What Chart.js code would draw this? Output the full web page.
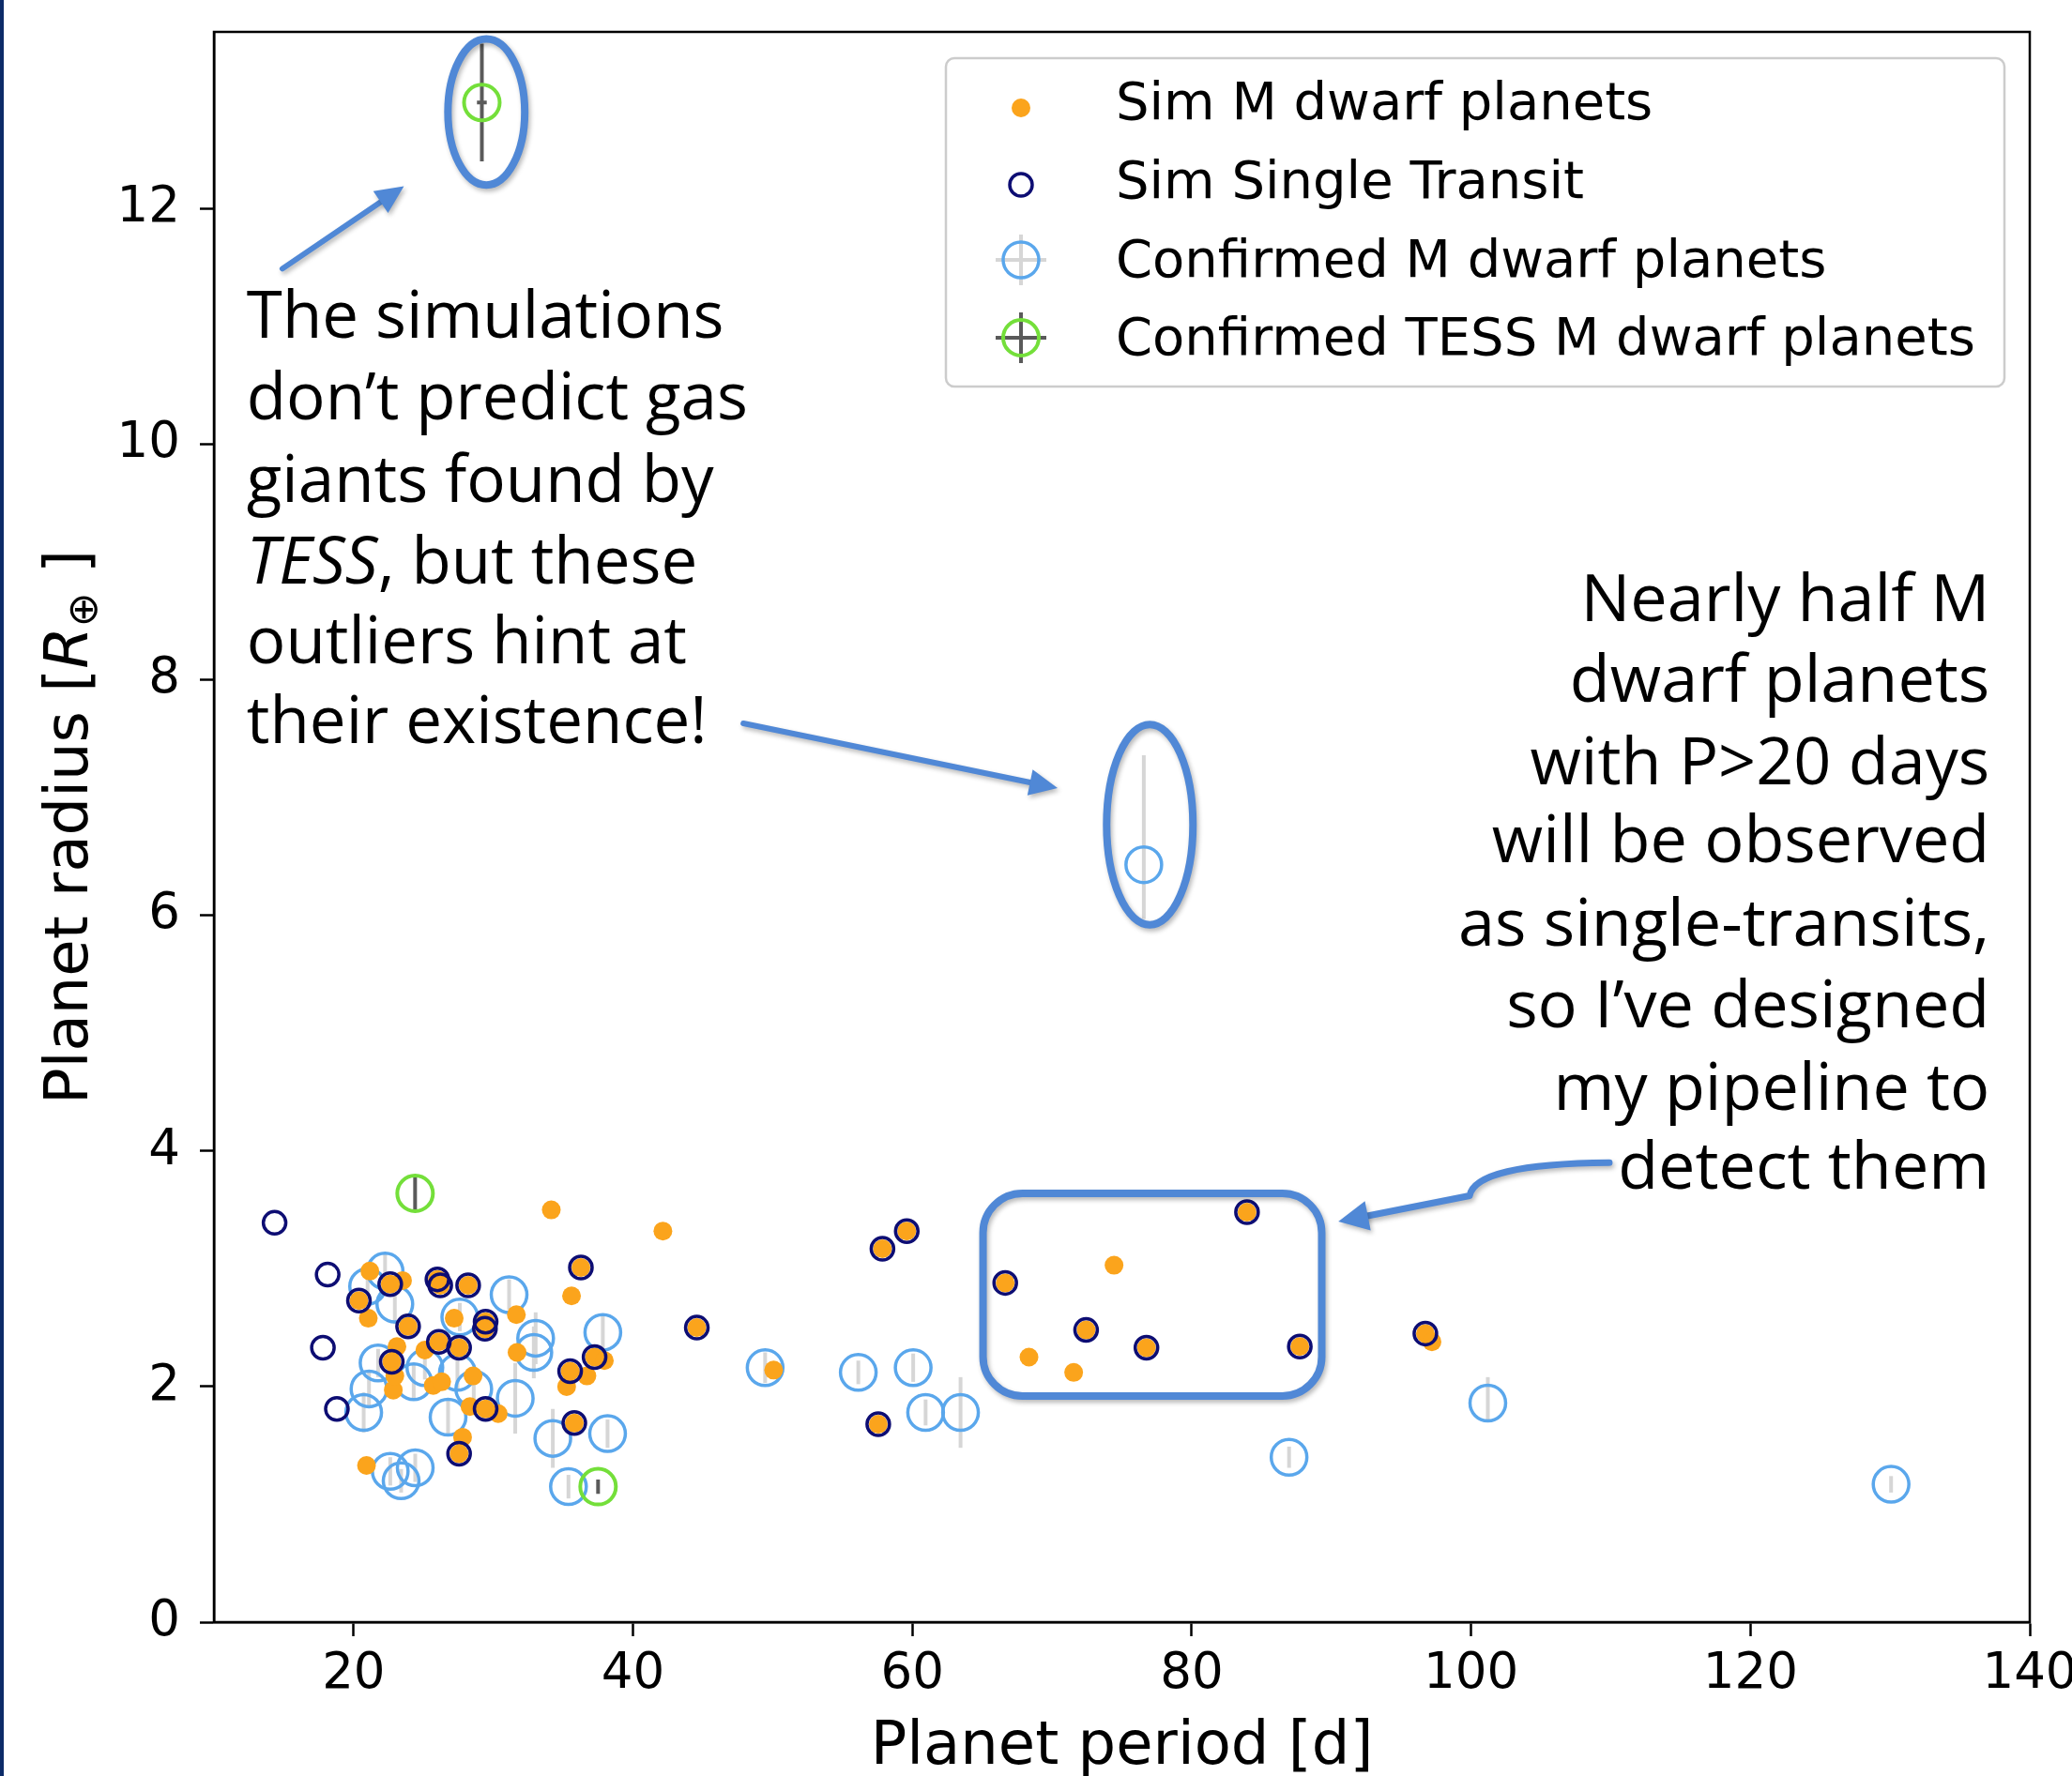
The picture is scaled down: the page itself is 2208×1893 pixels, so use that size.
<!DOCTYPE html>
<html>
<head>
<meta charset="utf-8">
<title>Sim vs confirmed M dwarf planets</title>
<script src="https://cdn.jsdelivr.net/npm/chart.js@4.4.1/dist/chart.umd.min.js"></script>
<style>
  html, body { margin: 0; padding: 0; background: #fff; }
  #wrap { position: relative; width: 2208px; height: 1893px; overflow: hidden; }
  #wrap::before { content: ''; position: absolute; left: 0; top: 0; width: 4px; height: 100%; background: #0c2b68; }
  canvas { display: block; }
</style>
</head>
<body>
<div id="wrap"><canvas id="chart" width="2208" height="1893"></canvas></div>
<script>
// ---- data ----
const xTicks = [20, 40, 60, 80, 100, 120, 140];
const yTicks = [0, 2, 4, 6, 8, 10, 12];

// simulated M dwarf planets (orange dots)
const simPeriod = [22.62, 20.38, 26.0, 26.2, 28.2, 29.45, 29.4, 23.9, 26.1, 27.55, 22.73, 29.45, 27.55, 36.27, 37.25, 35.5, 35.8, 44.57, 57.86, 59.6, 57.56, 66.65, 83.96, 72.44, 76.76, 87.74, 96.73,
                   34.15, 35.6, 21.16, 23.5, 21.05, 27.2, 31.65, 23.1, 25.1, 22.84, 22.95, 25.7, 26.3, 28.55, 28.33, 30.35, 31.7, 37.95, 36.7, 35.25, 27.8, 20.92, 42.14, 50.07, 74.44, 68.35, 71.55, 97.2];
const simRadius = [2.87, 2.73, 2.91, 2.86, 2.86, 2.55, 2.49, 2.51, 2.38, 2.33, 2.21, 1.81, 1.43, 3.01, 2.25, 2.13, 1.69, 2.50, 3.17, 3.32, 1.68, 2.88, 3.48, 2.48, 2.33, 2.34, 2.45,
                   3.50, 2.77, 2.98, 2.90, 2.58, 2.58, 2.61, 2.34, 2.31, 1.97, 2.09, 2.01, 2.04, 2.09, 1.83, 1.77, 2.29, 2.22, 2.09, 2.00, 1.57, 1.33, 3.32, 2.14, 3.03, 2.25, 2.12, 2.38];

// simulated single transits (navy open circles)
const singlePeriod = [22.62, 20.38, 26.0, 26.2, 28.2, 29.45, 29.4, 23.9, 26.1, 27.55, 22.73, 29.45, 27.55, 36.27, 37.25, 35.5, 35.8, 44.57, 57.86, 59.6, 57.56, 66.65, 83.96, 72.44, 76.76, 87.74, 96.73,
                      14.34, 18.14, 17.8, 18.8];
const singleRadius = [2.87, 2.73, 2.91, 2.86, 2.86, 2.55, 2.49, 2.51, 2.38, 2.33, 2.21, 1.81, 1.43, 3.01, 2.25, 2.13, 1.69, 2.50, 3.17, 3.32, 1.68, 2.88, 3.48, 2.48, 2.33, 2.34, 2.45,
                      3.39, 2.95, 2.33, 1.81];

// confirmed M dwarf planets (light blue, grey error bars)
const confPeriod = [22.25, 21.0, 22.95, 31.13, 27.6, 21.75, 21.1, 20.72, 24.3, 25.1, 27.43, 28.6, 26.76, 31.57, 33.03, 32.9, 37.84, 38.18, 34.26, 35.38,
                    22.62, 23.4, 24.41, 49.46, 56.13, 60.06, 60.95, 63.45, 76.57, 86.97, 101.2, 130.07];
const confRadius = [2.98, 2.85, 2.70, 2.78, 2.59, 2.20, 1.98, 1.78, 2.04, 2.16, 2.12, 1.98, 1.74, 1.90, 2.41, 2.29, 2.46, 1.60, 1.56, 1.15,
                    1.28, 1.20, 1.31, 2.16, 2.12, 2.16, 1.78, 1.78, 6.43, 1.40, 1.86, 1.17];
const confErrLow = [0.15, 0.10, 0.17, 0.13, 0.12, 0.12, 0.15, 0.17, 0.15, 0.10, 0.15, 0.10, 0.16, 0.30, 0.22, 0.22, 0.15, 0.12, 0.25, 0.10,
                    0.12, 0.10, 0.12, 0.13, 0.10, 0.12, 0.11, 0.30, 0.46, 0.09, 0.16, 0.07];
const confErrHigh = [0.15, 0.10, 0.17, 0.13, 0.12, 0.12, 0.15, 0.17, 0.15, 0.10, 0.15, 0.10, 0.16, 0.30, 0.22, 0.22, 0.15, 0.12, 0.25, 0.10,
                     0.12, 0.10, 0.12, 0.13, 0.10, 0.12, 0.11, 0.30, 0.93, 0.09, 0.22, 0.07];

// confirmed TESS M dwarf planets (green, dark error bars)
const tessPeriod = [29.18, 24.4, 37.5];
const tessRadius = [12.90, 3.64, 1.15];
const tessErr = [0.50, 0.14, 0.06];
const tessPeriodErr = [0.35, 0.08, 0.08];

const legendLabels = ['Sim M dwarf planets', 'Sim Single Transit', 'Confirmed M dwarf planets', 'Confirmed TESS M dwarf planets'];

const leftNote = [
    [['The simulations']],
    [['don\u2019t predict gas']],
    [['giants found by']],
    [['TESS', 'italic'], [', but these']],
    [['outliers hint at']],
    [['their existence!']]
];
const rightNote = ['Nearly half M', 'dwarf planets', 'with P>20 days', 'will be observed',
                   'as single-transits,', 'so I\u2019ve designed', 'my pipeline to', 'detect them'];

// ---- styles ----
const ORANGE = '#fba41c';
const NAVY = '#0d0d73';
const LIGHTBLUE = '#5aa7ec';
const GREEN = '#74df3a';
const ERR_LIGHT = '#d6d6d6';
const ERR_DARK = '#5a5a5a';
const NOTE_BLUE = '#5088d6';
const TICK_FONT = '"DejaVu Sans", sans-serif';
const HAND_FONT = '"Open Sans", sans-serif';

const pts = (xs, ys) => xs.map((x, i) => ({ x: x, y: ys[i] }));

// annotation placement, in data units
const marks = {
    ellipses: [
        { x: 29.5, y: 12.82, rx: 2.75, ry: 0.62 },
        { x: 77.0, y: 6.77, rx: 3.09, ry: 0.85 }
    ],
    box: { x0: 65.06, x1: 89.31, y0: 1.92, y1: 3.64 },
    arrows: [
        { from: [14.9, 11.49], to: [23.6, 12.19] },
        { from: [47.9, 7.63], to: [70.4, 7.08] }
    ],
    curve: { from: [109.9, 3.90], ctrl: [100.3, 3.89], mid: [99.9, 3.62], to: [90.5, 3.40] },
    leftText: { x: 12.34, y: [10.90, 10.21, 9.51, 8.82, 8.14, 7.46] },
    rightText: { x: 137.13, y: [8.50, 7.81, 7.11, 6.45, 5.74, 5.05, 4.35, 3.68] }
};

function head(ctx, x1, y1, x2, y2, len, half) {
    const a = Math.atan2(y2 - y1, x2 - x1);
    const c = Math.cos(a), s = Math.sin(a);
    ctx.beginPath();
    ctx.moveTo(x2, y2);
    ctx.lineTo(x2 - len * c + half * s, y2 - len * s - half * c);
    ctx.lineTo(x2 - len * c - half * s, y2 - len * s + half * c);
    ctx.closePath();
    ctx.fill();
}

function roundRect(ctx, x0, y0, x1, y1, r) {
    ctx.beginPath();
    ctx.moveTo(x0 + r, y0);
    ctx.arcTo(x1, y0, x1, y1, r);
    ctx.arcTo(x1, y1, x0, y1, r);
    ctx.arcTo(x0, y1, x0, y0, r);
    ctx.arcTo(x0, y0, x1, y0, r);
    ctx.closePath();
}

function fitSize(ctx, lines, family, target) {
    ctx.font = '100px ' + family;
    let w = 0;
    lines.forEach(l => { w = Math.max(w, ctx.measureText(l).width); });
    return 100 * target / w;
}

const errorBars = {
    id: 'errorBars',
    beforeDatasetDraw(chart, args) {
        const ds = chart.data.datasets[args.index];
        if (!ds.errLow) return;
        const { ctx, scales: { x, y } } = chart;
        ctx.save();
        ctx.strokeStyle = ds.errColor;
        ctx.lineWidth = 4;
        ds.data.forEach((p, i) => {
            const px = x.getPixelForValue(p.x);
            const py = y.getPixelForValue(p.y);
            ctx.beginPath();
            ctx.moveTo(px, y.getPixelForValue(p.y - ds.errLow[i]));
            ctx.lineTo(px, y.getPixelForValue(p.y + ds.errHigh[i]));
            if (ds.xErr) {
                ctx.moveTo(x.getPixelForValue(p.x - ds.xErr[i]), py);
                ctx.lineTo(x.getPixelForValue(p.x + ds.xErr[i]), py);
            }
            ctx.stroke();
        });
        ctx.restore();
    }
};

const notes = {
    id: 'notes',
    afterDatasetsDraw(chart) {
        const { ctx, scales: { x, y } } = chart;
        const X = v => x.getPixelForValue(v);
        const Y = v => y.getPixelForValue(v);

        ctx.save();
        ctx.strokeStyle = NOTE_BLUE;
        ctx.fillStyle = NOTE_BLUE;
        ctx.lineWidth = 8;
        ctx.lineCap = 'round';
        ctx.lineJoin = 'round';
        ctx.shadowColor = 'rgba(0,0,0,0.28)';
        ctx.shadowBlur = 5;
        ctx.shadowOffsetX = 2;
        ctx.shadowOffsetY = 3;

        marks.ellipses.forEach(e => {
            const rx = X(e.x + e.rx) - X(e.x);
            const ry = Y(e.y) - Y(e.y + e.ry);
            ctx.beginPath();
            ctx.ellipse(X(e.x), Y(e.y), rx, ry, 0, 0, Math.PI * 2);
            ctx.stroke();
        });

        const b = marks.box;
        roundRect(ctx, X(b.x0), Y(b.y1), X(b.x1), Y(b.y0), 42);
        ctx.stroke();

        ctx.lineWidth = 6;
        marks.arrows.forEach(a => {
            const x1 = X(a.from[0]), y1 = Y(a.from[1]);
            const x2 = X(a.to[0]), y2 = Y(a.to[1]);
            const ang = Math.atan2(y2 - y1, x2 - x1);
            ctx.beginPath();
            ctx.moveTo(x1, y1);
            ctx.lineTo(x2 - 20 * Math.cos(ang), y2 - 20 * Math.sin(ang));
            ctx.stroke();
            head(ctx, x1, y1, x2, y2, 30, 14);
        });

        // hooked arrow from the right-hand note to the box
        const c = marks.curve;
        const mx = X(c.mid[0]), my = Y(c.mid[1]);
        const ex = X(c.to[0]), ey = Y(c.to[1]);
        const ang = Math.atan2(ey - my, ex - mx);
        ctx.lineWidth = 7;
        ctx.beginPath();
        ctx.moveTo(X(c.from[0]), Y(c.from[1]));
        ctx.quadraticCurveTo(X(c.ctrl[0]), Y(c.ctrl[1]), mx, my);
        ctx.lineTo(ex - 20 * Math.cos(ang), ey - 20 * Math.sin(ang));
        ctx.stroke();
        head(ctx, mx, my, ex, ey, 32, 16);
        ctx.restore();

        // handwritten-style notes
        ctx.save();
        ctx.fillStyle = '#000';
        ctx.textBaseline = 'alphabetic';
        const leftPlain = leftNote.map(l => l.map(s => s[0]).join(''));
        const ls = fitSize(ctx, leftPlain, HAND_FONT, 534);
        ctx.textAlign = 'left';
        leftNote.forEach((line, i) => {
            let px = X(marks.leftText.x);
            const py = Y(marks.leftText.y[i]);
            line.forEach(seg => {
                ctx.font = (seg[1] ? seg[1] + ' ' : '') + ls.toFixed(1) + 'px ' + HAND_FONT;
                ctx.fillText(seg[0], px, py);
                px += ctx.measureText(seg[0]).width;
            });
        });
        const rs = fitSize(ctx, rightNote, HAND_FONT, 566);
        ctx.font = rs.toFixed(1) + 'px ' + HAND_FONT;
        ctx.textAlign = 'right';
        rightNote.forEach((t, i) => {
            ctx.fillText(t, X(marks.rightText.x), Y(marks.rightText.y[i]));
        });
        ctx.restore();
    }
};

const frame = {
    id: 'frame',
    afterDraw(chart) {
        const { ctx, chartArea: a } = chart;
        ctx.save();
        ctx.strokeStyle = '#000';
        ctx.lineWidth = 2.5;
        ctx.strokeRect(a.left, a.top, a.right - a.left, a.bottom - a.top);

        // axis titles
        ctx.fillStyle = '#000';
        ctx.textBaseline = 'alphabetic';
        ctx.textAlign = 'center';
        ctx.font = '64px ' + TICK_FONT;
        ctx.fillText('Planet period [d]', (a.left + a.right) / 2, 1880);

        const segs = [
            { t: 'Planet radius [', f: '64px ' + TICK_FONT, dy: 0 },
            { t: 'R', f: 'italic 64px ' + TICK_FONT, dy: 0 },
            { t: '\u2295', f: '44px ' + TICK_FONT, dy: 10 },
            { t: ' ]', f: '64px ' + TICK_FONT, dy: 0 }
        ];
        let total = 0;
        segs.forEach(s => { ctx.font = s.f; s.w = ctx.measureText(s.t).width; total += s.w; });
        ctx.translate(93, (a.top + a.bottom) / 2);
        ctx.rotate(-Math.PI / 2);
        ctx.textAlign = 'left';
        let px = -total / 2;
        segs.forEach(s => { ctx.font = s.f; ctx.fillText(s.t, px, s.dy); px += s.w; });
        ctx.restore();

        // legend
        ctx.save();
        const bx0 = a.right - 1155, by0 = a.top + 28, bx1 = a.right - 27, by1 = a.top + 378;
        ctx.fillStyle = 'rgba(255,255,255,0.85)';
        ctx.strokeStyle = '#cccccc';
        ctx.lineWidth = 2.5;
        roundRect(ctx, bx0, by0, bx1, by1, 9);
        ctx.fill();
        ctx.stroke();
        const mx = bx0 + 80;
        const rows = [by0 + 53, by0 + 135, by0 + 215, by0 + 298];
        const base = [by0 + 65, by0 + 149, by0 + 233, by0 + 316];
        // row 1
        ctx.fillStyle = ORANGE;
        ctx.beginPath(); ctx.arc(mx, rows[0], 10, 0, Math.PI * 2); ctx.fill();
        // row 2
        ctx.strokeStyle = NAVY; ctx.lineWidth = 3.5;
        ctx.beginPath(); ctx.arc(mx, rows[1], 12, 0, Math.PI * 2); ctx.stroke();
        // rows 3, 4 with crosshair error bars
        [[ERR_LIGHT, LIGHTBLUE, rows[2], 3.5], [ERR_DARK, GREEN, rows[3], 4]].forEach(r => {
            ctx.strokeStyle = r[0]; ctx.lineWidth = 4;
            ctx.beginPath();
            ctx.moveTo(mx - 27, r[2]); ctx.lineTo(mx + 27, r[2]);
            ctx.moveTo(mx, r[2] - 27); ctx.lineTo(mx, r[2] + 27);
            ctx.stroke();
            ctx.strokeStyle = r[1]; ctx.lineWidth = r[3];
            ctx.beginPath(); ctx.arc(mx, r[2], 19, 0, Math.PI * 2); ctx.stroke();
        });
        ctx.fillStyle = '#000';
        ctx.font = '56px ' + TICK_FONT;
        ctx.textAlign = 'left';
        ctx.textBaseline = 'alphabetic';
        legendLabels.forEach((t, i) => ctx.fillText(t, bx0 + 181, base[i]));
        ctx.restore();
    }
};

const axisCommon = {
    type: 'linear',
    grid: { drawOnChartArea: false, drawTicks: true, tickLength: 15, tickWidth: 2.5, tickColor: '#000', color: '#000' },
    border: { display: true, color: '#000', width: 2.5 }
};

new Chart(document.getElementById('chart'), {
    type: 'scatter',
    data: {
        datasets: [
            {
                label: legendLabels[1],
                data: pts(singlePeriod, singleRadius),
                pointRadius: 12,
                pointBorderWidth: 3.5,
                pointBorderColor: NAVY,
                pointBackgroundColor: 'rgba(0,0,0,0)',
                order: 0
            },
            {
                label: legendLabels[0],
                data: pts(simPeriod, simRadius),
                pointRadius: 10,
                pointBorderWidth: 0,
                pointBackgroundColor: ORANGE,
                order: 1
            },
            {
                label: legendLabels[3],
                data: pts(tessPeriod, tessRadius),
                errLow: tessErr,
                errHigh: tessErr,
                xErr: tessPeriodErr,
                errColor: ERR_DARK,
                pointRadius: 19,
                pointBorderWidth: 4,
                pointBorderColor: GREEN,
                pointBackgroundColor: 'rgba(0,0,0,0)',
                order: 2
            },
            {
                label: legendLabels[2],
                data: pts(confPeriod, confRadius),
                errLow: confErrLow,
                errHigh: confErrHigh,
                errColor: ERR_LIGHT,
                pointRadius: 19,
                pointBorderWidth: 3.5,
                pointBorderColor: LIGHTBLUE,
                pointBackgroundColor: 'rgba(0,0,0,0)',
                order: 3
            }
        ]
    },
    options: {
        responsive: false,
        animation: false,
        events: [],
        layout: { padding: { left: 0, right: 45, top: 34, bottom: 0 } },
        plugins: { legend: { display: false }, tooltip: { enabled: false } },
        scales: {
            x: Object.assign({}, axisCommon, {
                min: 10,
                max: 140,
                afterBuildTicks: s => { s.ticks = xTicks.map(v => ({ value: v })); },
                afterFit: s => { s.height = 164; s.paddingLeft = 0; s.paddingRight = 0; },
                ticks: { font: { family: TICK_FONT, size: 53, lineHeight: 1.2 }, color: '#000', padding: 9, maxRotation: 0, autoSkip: false }
            }),
            y: Object.assign({}, axisCommon, {
                min: 0,
                max: 13.5,
                afterBuildTicks: s => { s.ticks = yTicks.map(v => ({ value: v })); },
                afterFit: s => { s.width = 228; s.paddingTop = 0; s.paddingBottom = 0; },
                ticks: { font: { family: TICK_FONT, size: 53, lineHeight: 1.2 }, color: '#000', padding: 21, autoSkip: false }
            })
        }
    },
    plugins: [errorBars, notes, frame]
});
</script>
</body>
</html>
